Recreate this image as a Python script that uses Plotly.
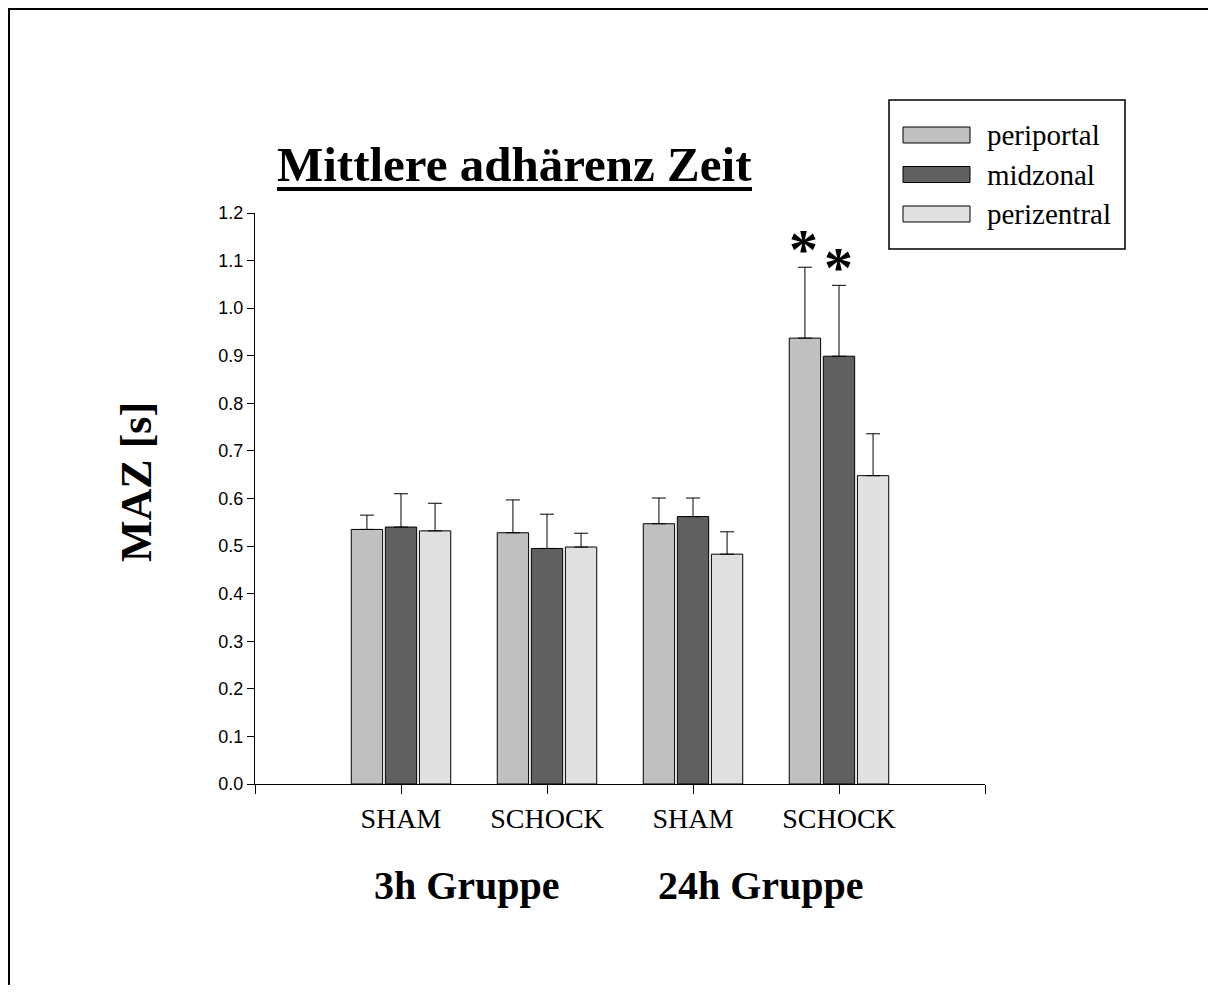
import plotly.graph_objects as go

# ---------------- data ----------------
groups = ["SHAM", "SCHOCK", "SHAM", "SCHOCK"]
group_titles = ["3h Gruppe", "24h Gruppe"]
series_names = ["periportal", "midzonal", "perizentral"]

periportal = [0.535, 0.528, 0.547, 0.937]
midzonal = [0.540, 0.495, 0.562, 0.899]
perizentral = [0.532, 0.498, 0.483, 0.648]

periportal_err = [0.030, 0.069, 0.054, 0.149]
midzonal_err = [0.070, 0.072, 0.039, 0.149]
perizentral_err = [0.058, 0.029, 0.047, 0.088]

significant = [(3, 0), (3, 1)]  # (group index, series index) marked with *

y_ticks = [round(i * 0.1, 1) for i in range(13)]

# ---------------- style ----------------
colors = ["#c0c0c0", "#606060", "#e0e0e0"]
OFF = 8  # page body margin
W, H = 1208, 977
L, R, T, B = 255, 985, 213, 784   # plot area in screen pixels
SERIF = "Liberation Serif, Times New Roman, serif"
SANS = "Liberation Sans, Arial, sans-serif"


def px(x):
    return (x - L) / (R - L)


def py(y):
    return (B - y) / (B - T)


xpos = list(range(1, len(groups) + 1))
values = [periportal, midzonal, perizentral]
errs = [periportal_err, midzonal_err, perizentral_err]

fig = go.Figure()
for name, v, e, c in zip(series_names, values, errs, colors):
    fig.add_trace(go.Bar(
        x=xpos, y=v, name=name,
        marker=dict(color=c, line=dict(color="black", width=1)),
        error_y=dict(type="data", array=e, symmetric=False,
                     arrayminus=[0] * len(e), color="black",
                     thickness=1, width=7),
        showlegend=False,
    ))

BARGAP = 0.3
slot = (1 - BARGAP) / 3
annotations = []
shapes = []

# asterisks
for gi, si in significant:
    xa = xpos[gi] + (si - 1) * slot
    ya = values[si][gi] + errs[si][gi]
    annotations.append(dict(x=xa, y=ya, xref="x", yref="y", text="<b>*</b>",
                            showarrow=False, yanchor="bottom",
                            yshift=-17, xshift=-1,
                            font=dict(family=SERIF, size=58, color="black")))

# group titles
for txt, cx in zip(group_titles, [467, 761]):
    annotations.append(dict(x=px(cx), y=py(886), xref="paper", yref="paper",
                            text="<b>%s</b>" % txt, showarrow=False,
                            xanchor="center", yanchor="middle",
                            font=dict(family=SERIF, size=40, color="black")))

# title
annotations.append(dict(x=px(514.5), y=py(164), xref="paper", yref="paper",
                        text="<b>Mittlere adhärenz Zeit</b>", showarrow=False,
                        xanchor="center", yanchor="middle",
                        font=dict(family=SERIF, size=49, color="black")))
shapes.append(dict(type="line", xref="paper", yref="paper",
                   x0=px(277), x1=px(752), y0=py(189), y1=py(189),
                   line=dict(color="black", width=4)))

# y title
annotations.append(dict(x=px(136), y=py(482), xref="paper", yref="paper",
                        text="<b>MAZ [s]</b>", showarrow=False, textangle=-90,
                        xanchor="center", yanchor="middle",
                        font=dict(family=SERIF, size=44, color="black")))

# legend box
shapes.append(dict(type="rect", xref="paper", yref="paper",
                   x0=px(889), x1=px(1125), y0=py(100), y1=py(249),
                   line=dict(color="black", width=1.5), fillcolor="white"))
for i, (name, c) in enumerate(zip(series_names, colors)):
    cy = 135 + i * 39.5
    shapes.append(dict(type="rect", xref="paper", yref="paper",
                       x0=px(903), x1=px(970), y0=py(cy - 8), y1=py(cy + 8),
                       line=dict(color="black", width=1), fillcolor=c))
    annotations.append(dict(x=px(985), y=py(cy), xref="paper", yref="paper",
                            text=name, showarrow=False,
                            xanchor="left", yanchor="middle",
                            font=dict(family=SERIF, size=29, color="black")))

# outer frame (top and left visible)
shapes.append(dict(type="rect", xref="paper", yref="paper",
                   x0=px(9), x1=px(1400), y0=py(9), y1=py(1200),
                   line=dict(color="black", width=2), fillcolor="rgba(0,0,0,0)"))

fig.update_layout(
    width=W, height=H,
    margin=dict(l=L - OFF, r=W - (R - OFF), t=T - OFF, b=H - (B - OFF), pad=0),
    paper_bgcolor="white", plot_bgcolor="white",
    barmode="group", bargap=BARGAP, bargroupgap=0.08,
    annotations=annotations, shapes=shapes,
    showlegend=False,
)
fig.update_xaxes(
    range=[0, len(groups) + 1],
    tickmode="array", tickvals=[0] + xpos + [len(groups) + 1],
    ticktext=[""] + groups + [""],
    ticks="outside", ticklen=9, tickcolor="black", tickwidth=1,
    showline=True, linecolor="black", linewidth=1,
    showgrid=False, zeroline=False,
    tickfont=dict(family=SERIF, size=28, color="black"),
)
fig.update_yaxes(
    range=[0, 1.2],
    tickmode="array", tickvals=y_ticks,
    ticktext=["%.1f" % v for v in y_ticks],
    ticks="outside", ticklen=7, tickcolor="black", tickwidth=1,
    showline=True, linecolor="black", linewidth=1,
    showgrid=False, zeroline=False,
    tickfont=dict(family=SANS, size=18, color="black"),
)

fig.write_html("out.html")
